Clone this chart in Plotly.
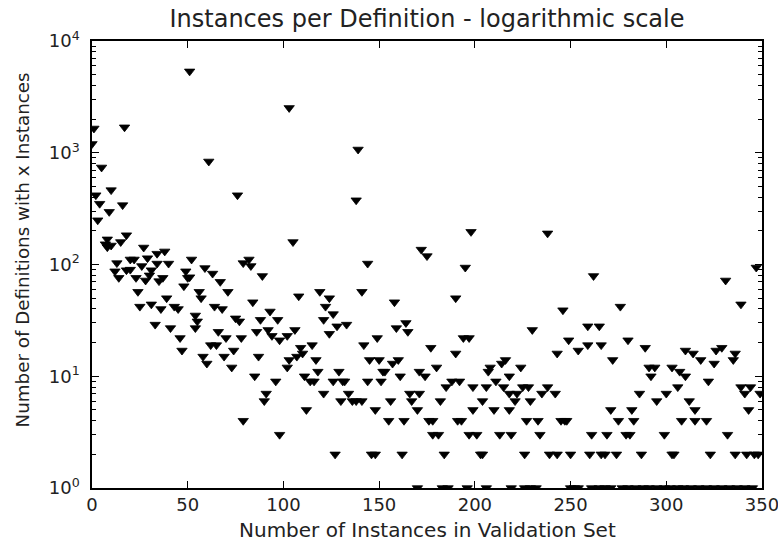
import plotly.graph_objects as go

title_text = "Instances per Definition - logarithmic scale"
x_label = "Number of Instances in Validation Set"
y_label = "Number of Definitions with x Instances"

x_ticks = [0, 50, 100, 150, 200, 250, 300, 350]
y_ticks = [1, 10, 100, 1000, 10000]
y_tick_text = ["10<sup>0</sup>", "10<sup>1</sup>", "10<sup>2</sup>", "10<sup>3</sup>", "10<sup>4</sup>"]

# x: number of instances, y: number of definitions having that many instances
inst_a = [0, 1, 2, 3, 4, 5, 7, 8, 8, 10, 9, 10, 15, 16, 17, 18,
          27, 34, 38, 29, 20, 22, 13, 26, 34, 40, 52, 20, 12, 18, 31, 49, 14, 23, 30, 37,
          35, 28, 50, 48, 24, 39, 25, 31, 36, 43, 45, 33, 41, 54, 55, 54, 46, 47,
          51, 61, 76]
defs_a = [1200, 1650, 417, 249, 350, 739, 152, 168, 143, 148, 296, 463, 159, 340, 1690, 183,
          142, 125, 131, 114, 111, 111, 103, 97, 102, 102, 111, 90, 87, 89, 89, 87, 76, 76, 80, 76,
          71, 72, 76, 64, 57, 50, 42, 44, 40, 42, 40, 29, 27, 35, 31, 27, 22, 17,
          5350, 836, 417]

inst_b = [105, 51, 59, 63, 67, 71, 56, 57, 79, 82, 83, 89, 84, 64, 68, 75, 77, 88, 93, 97,
          108, 66, 70, 86, 78, 92, 94, 98, 102, 106, 62, 65, 74, 69, 58, 60, 73, 87, 102, 103,
          107, 109, 110, 85, 96, 91, 90, 79, 98, 111, 114, 116, 112, 121, 118, 117, 115, 119,
          121, 122, 124, 103, 139, 138]
defs_b = [159, 77, 93, 83, 70, 57, 57, 50, 103, 111, 97, 79, 46, 42, 40, 33, 31, 32, 38, 32,
          52, 25, 22, 25, 22, 26, 23, 21, 23, 26, 19, 19, 17, 15, 15, 13, 12, 15, 12, 14,
          15, 18, 16, 10, 9, 7, 6, 4, 3, 10, 9, 9, 5, 7, 11, 14, 19, 57,
          32, 42, 24, 2520, 1070, 376]

inst_c = [198, 172, 175, 144, 195, 141, 158, 190, 124, 126, 128, 133, 159, 164, 165, 149, 142,
          194, 197, 177, 190, 145, 150, 160, 157, 180, 129, 152, 153, 171, 174, 161, 126, 131,
          132, 144, 151, 185, 188, 192, 199, 134, 136, 138, 141, 130, 166, 171, 167, 156, 182,
          199, 148, 170, 155, 163, 176, 178, 191, 193, 178, 181, 197, 127, 146, 148, 162, 184,
          170, 183, 186, 196]
defs_c = [196, 136, 119, 102, 94, 57, 46, 50, 50, 36, 28, 29, 27, 30, 25, 22, 19,
          22, 22, 18, 16, 14, 14, 14, 13, 12, 11, 11, 11, 11, 10, 10, 9, 9,
          9, 9, 9, 8, 9, 9, 8, 7, 6, 6, 6, 6, 7, 7, 6, 6, 6,
          5, 5, 5, 4, 4, 4, 4, 4, 4, 3, 3, 3, 2, 2, 2, 2, 2,
          1, 1, 1, 1]

inst_d = [238, 262, 276, 246, 230, 259, 265, 249, 254, 259, 266, 243, 272, 216, 214, 208, 207,
          224, 218, 211, 206, 215, 225, 228, 238, 218, 222, 235, 242, 204, 221, 229, 210, 218,
          271, 227, 233, 245, 247, 248, 275, 201, 213, 219, 234, 261, 269, 203, 204, 226, 239,
          243, 250, 260, 266, 268, 274,
          206, 219, 226, 229, 232, 250, 252, 254, 261, 265, 268, 271]
defs_d = [190, 79, 42, 39, 26, 28, 28, 21, 17, 19, 19, 16, 14, 14, 13, 12, 11,
          12, 10, 9, 8, 8, 8, 8, 8, 7, 7, 7, 7, 6, 6, 6, 5, 5,
          5, 4, 4, 4, 4, 4, 4, 3, 3, 3, 3, 3, 3, 2, 2, 2, 2,
          2, 2, 2, 2, 2, 2,
          1, 1, 1, 1, 1, 1, 1, 1, 1, 1, 1, 1]

inst_e = [347, 331, 339, 280, 289, 310, 314, 318, 326, 329, 336, 335, 325, 291, 294, 303, 307,
          310, 292, 322, 306, 339, 344, 349, 341, 286, 300, 295, 312, 282, 315, 343, 283, 308,
          315, 321, 279, 281, 299, 332, 287, 303, 304, 323, 336, 342, 346, 348,
          277, 280, 284, 288, 291, 295, 299, 302, 306, 309, 313, 317, 321, 325, 329, 333, 337,
          341, 345]
defs_e = [94, 72, 44, 21, 18, 17, 16, 14, 17, 18, 16, 14, 13, 12, 12, 12, 11,
          10, 10, 9, 8, 8, 8, 7, 7, 7, 7, 6, 6, 5, 5, 5, 4, 4,
          4, 4, 3, 3, 3, 3, 2, 2, 2, 2, 2, 2, 2, 2,
          1, 1, 1, 1, 1, 1, 1, 1, 1, 1, 1, 1, 1, 1, 1, 1, 1,
          1, 1]

instances = inst_a + inst_b + inst_c + inst_d + inst_e
definitions = defs_a + defs_b + defs_c + defs_d + defs_e

fig = go.Figure()
fig.add_trace(go.Scatter(
    x=instances, y=definitions, mode="markers",
    marker=dict(symbol="triangle-down", size=9, color="black",
                line=dict(color="black", width=0.8)),
    showlegend=False, cliponaxis=True,
))

font_family = "DejaVu Sans"
text_color = "#222222"
minor_vals = [m * 10 ** e for e in range(0, 4) for m in range(2, 10)]

fig.update_layout(
    width=778, height=544,
    margin=dict(l=92, r=16, t=41, b=56, autoexpand=False),
    paper_bgcolor="white", plot_bgcolor="white",
    font=dict(family=font_family, color=text_color, size=18),
    title=dict(text=title_text, x=(92 + 762) / 2 / 778, xanchor="center",
               y=1 - 19 / 544, yanchor="middle", yref="container",
               font=dict(size=24, family=font_family, color=text_color)),
    annotations=[
        dict(text=y_label, textangle=-90, xref="paper", yref="paper",
             x=-(92 - 22) / 670, y=(488 - 250.5) / 447, xanchor="center", yanchor="middle",
             showarrow=False, font=dict(size=18.3, family=font_family, color=text_color)),
        dict(text=x_label, xref="paper", yref="paper",
             x=0.5, y=-(530 - 488) / 447, xanchor="center", yanchor="middle",
             showarrow=False, font=dict(size=20, family=font_family, color=text_color)),
    ],
)
fig.update_xaxes(
    range=[0, 350.0001], tickvals=x_ticks, ticks="inside", ticklen=7, tickwidth=1,
    tickcolor="black", showline=True, linecolor="black", linewidth=1.5, mirror="ticks",
    showgrid=False, zeroline=False, tickfont=dict(size=18), ticklabeloverflow="allow",
    ticklabelstandoff=0, automargin=False,
)
fig.update_yaxes(
    type="log", range=[0, 4], tickvals=y_ticks, ticktext=y_tick_text,
    ticks="inside", ticklen=7, tickwidth=1, tickcolor="black",
    minor=dict(tickvals=minor_vals, ticks="inside", ticklen=4, tickcolor="black", tickwidth=1),
    showline=True, linecolor="black", linewidth=1.5, mirror="ticks",
    showgrid=False, zeroline=False, tickfont=dict(size=18), ticklabelstandoff=7,
    automargin=False,
)

fig.write_html("out.html")
